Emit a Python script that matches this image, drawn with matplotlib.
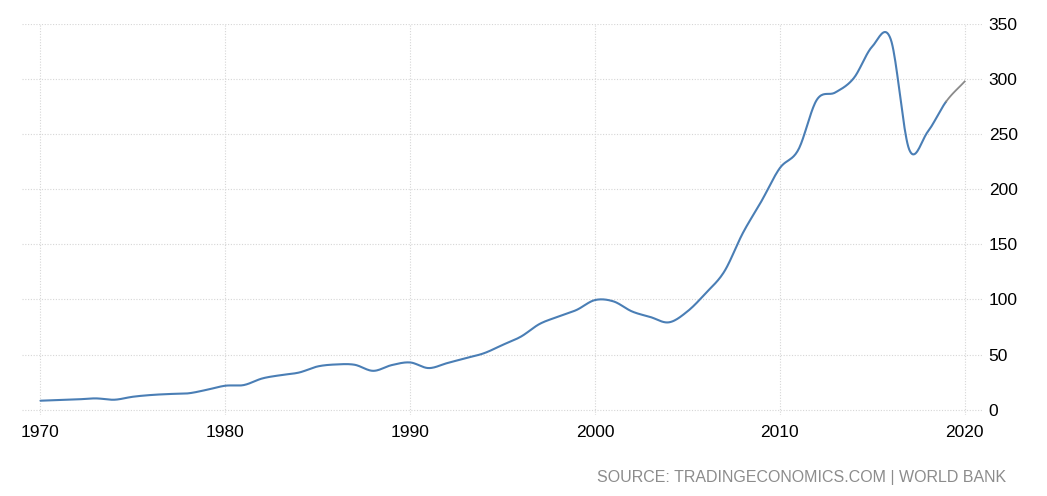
import numpy as np
import matplotlib.pyplot as plt

years = list(range(1970, 2021))
values = [8.1, 8.7, 9.3, 10.2, 9.0, 11.7, 13.3, 14.2, 14.8, 18.0,
          21.7, 22.3, 28.3, 31.3, 33.7, 39.2, 41.0, 40.7, 35.2, 40.4,
          42.8, 37.7, 42.2, 46.7, 51.2, 58.7, 66.3, 77.7, 84.3, 90.4,
          99.4, 98.2, 89.1, 84.0, 79.2, 89.1, 105.8, 125.4, 160.2, 188.9,
          219.1, 235.7, 281.0, 287.7, 300.7, 329.4, 336.0, 236.0, 252.0, 279.5,
          297.7]
xticks = [1970, 1980, 1990, 2000, 2010, 2020]
yticks = [0, 50, 100, 150, 200, 250, 300, 350]
source = "SOURCE: TRADINGECONOMICS.COM | WORLD BANK"

BLUE = "#4a7eb5"
GREY = "#8a8a8a"


def smooth(x, y, n=20):
    # catmull-rom curve through the yearly points
    x = np.asarray(x, float)
    y = np.asarray(y, float)
    px = np.concatenate([[2 * x[0] - x[1]], x, [2 * x[-1] - x[-2]]])
    py = np.concatenate([[2 * y[0] - y[1]], y, [2 * y[-1] - y[-2]]])
    xs, ys = [], []
    t = np.linspace(0, 1, n, endpoint=False)
    for i in range(1, len(px) - 2):
        for arr, out in ((px, xs), (py, ys)):
            p0, p1, p2, p3 = arr[i - 1], arr[i], arr[i + 1], arr[i + 2]
            out.extend(0.5 * (2 * p1 + (-p0 + p2) * t
                              + (2 * p0 - 5 * p1 + 4 * p2 - p3) * t ** 2
                              + (-p0 + 3 * p1 - 3 * p2 + p3) * t ** 3))
    xs.append(x[-1])
    ys.append(y[-1])
    return np.array(xs), np.array(ys)


plt.rcParams['font.family'] = ['Liberation Sans', 'DejaVu Sans']

fig = plt.figure(figsize=(10.47, 4.96), dpi=100)
ax = fig.add_axes([0.021, 0.163, 0.918, 0.789])

sx, sy = smooth(years, values)
split = sx <= years[-2]
ax.plot(sx[split], sy[split], color=BLUE, lw=1.5, solid_capstyle="round")
ax.plot(sx[sx >= years[-2]], sy[sx >= years[-2]], color=GREY, lw=1.3)

ax.set_xlim(1969, 2021)
ax.set_ylim(-5, 350)
ax.set_xticks(xticks)
ax.set_yticks(yticks)
ax.yaxis.tick_right()
ax.tick_params(axis="both", length=0, labelsize=12.5, colors="black")
ax.tick_params(axis="x", pad=7)
ax.tick_params(axis="y", pad=4)
ax.grid(True, color="#d6d6d6", ls=(0, (1, 1.5)), lw=0.8)
for s in ax.spines.values():
    s.set_visible(False)

fig.text(0.961, 0.038, source, ha="right", va="center", fontsize=11.5, color="#8c8c8c")

fig.savefig("out.png", dpi=100)
